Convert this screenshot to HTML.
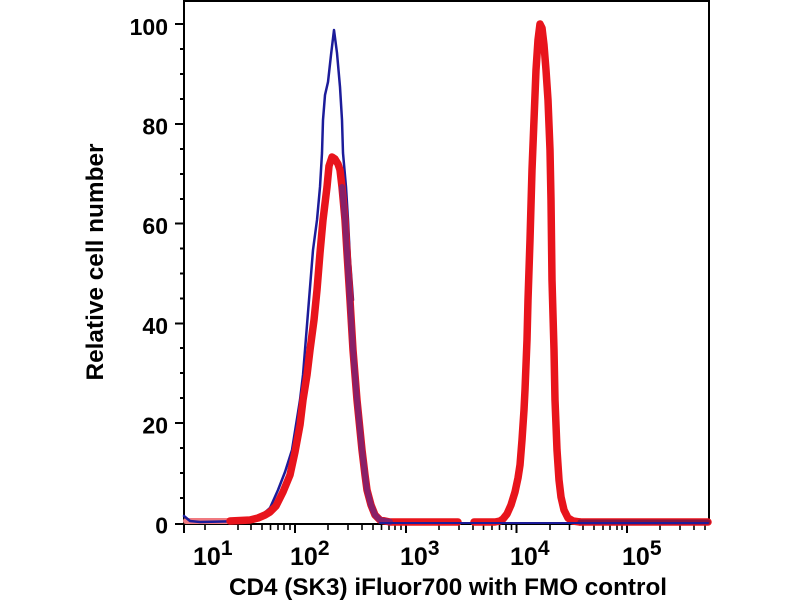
<!DOCTYPE html>
<html><head><meta charset="utf-8"><style>
html,body{margin:0;padding:0;background:#fff;}
svg{display:block;}
text{font-family:"Liberation Sans",Arial,sans-serif;font-weight:bold;fill:#000;}
</style></head><body>
<svg width="800" height="600" viewBox="0 0 800 600" xmlns="http://www.w3.org/2000/svg">
<rect width="800" height="600" fill="#fff"/>
<!-- frame -->
<line x1="184" y1="1" x2="710" y2="1" stroke="#000" stroke-width="2"/>
<line x1="709" y1="0" x2="709" y2="525" stroke="#000" stroke-width="2"/>
<line x1="184" y1="0" x2="184" y2="533" stroke="#000" stroke-width="2"/>
<line x1="175" y1="524" x2="710" y2="524" stroke="#000" stroke-width="2"/>
<!-- y ticks -->
<g stroke="#000" stroke-width="2">
<line x1="175" y1="24" x2="184" y2="24"/>
<line x1="175" y1="124" x2="184" y2="124"/>
<line x1="175" y1="223.5" x2="184" y2="223.5"/>
<line x1="175" y1="323.5" x2="184" y2="323.5"/>
<line x1="175" y1="423" x2="184" y2="423"/>
<line x1="180" y1="49" x2="184" y2="49"/><line x1="180" y1="74" x2="184" y2="74"/><line x1="180" y1="99" x2="184" y2="99"/>
<line x1="180" y1="149" x2="184" y2="149"/><line x1="180" y1="174" x2="184" y2="174"/><line x1="180" y1="199" x2="184" y2="199"/>
<line x1="180" y1="248.5" x2="184" y2="248.5"/><line x1="180" y1="273.5" x2="184" y2="273.5"/><line x1="180" y1="298.5" x2="184" y2="298.5"/>
<line x1="180" y1="348" x2="184" y2="348"/><line x1="180" y1="373" x2="184" y2="373"/><line x1="180" y1="398" x2="184" y2="398"/>
<line x1="180" y1="448" x2="184" y2="448"/><line x1="180" y1="473" x2="184" y2="473"/><line x1="180" y1="498" x2="184" y2="498"/>
</g>
<!-- x ticks -->
<g stroke="#000" stroke-width="2">
<line x1="295" y1="524" x2="295" y2="533"/>
<line x1="406" y1="524" x2="406" y2="533"/>
<line x1="516.5" y1="524" x2="516.5" y2="533"/>
<line x1="627" y1="524" x2="627" y2="533"/>
</g>
<g stroke="#000" stroke-width="1.6">
<line x1="205" y1="524" x2="205" y2="530"/><line x1="238" y1="524" x2="238" y2="530"/><line x1="251" y1="524" x2="251" y2="530"/><line x1="262" y1="524" x2="262" y2="530"/><line x1="270.5" y1="524" x2="270.5" y2="530"/><line x1="278" y1="524" x2="278" y2="530"/><line x1="284" y1="524" x2="284" y2="530"/><line x1="290" y1="524" x2="290" y2="530"/>
<line x1="328" y1="524" x2="328" y2="530"/><line x1="348" y1="524" x2="348" y2="530"/><line x1="362" y1="524" x2="362" y2="530"/><line x1="373" y1="524" x2="373" y2="530"/><line x1="381.5" y1="524" x2="381.5" y2="530"/><line x1="389" y1="524" x2="389" y2="530"/><line x1="395" y1="524" x2="395" y2="530"/><line x1="401" y1="524" x2="401" y2="530"/>
<line x1="439" y1="524" x2="439" y2="530"/><line x1="459" y1="524" x2="459" y2="530"/><line x1="473" y1="524" x2="473" y2="530"/><line x1="483.5" y1="524" x2="483.5" y2="530"/><line x1="492" y1="524" x2="492" y2="530"/><line x1="499.5" y1="524" x2="499.5" y2="530"/><line x1="506" y1="524" x2="506" y2="530"/><line x1="511.5" y1="524" x2="511.5" y2="530"/>
<line x1="550" y1="524" x2="550" y2="530"/><line x1="569.5" y1="524" x2="569.5" y2="530"/><line x1="583" y1="524" x2="583" y2="530"/><line x1="594" y1="524" x2="594" y2="530"/><line x1="603" y1="524" x2="603" y2="530"/><line x1="610" y1="524" x2="610" y2="530"/><line x1="617" y1="524" x2="617" y2="530"/><line x1="622" y1="524" x2="622" y2="530"/>
<line x1="660" y1="524" x2="660" y2="530"/><line x1="680" y1="524" x2="680" y2="530"/><line x1="694" y1="524" x2="694" y2="530"/><line x1="705" y1="524" x2="705" y2="530"/>
</g>
<!-- curves -->
<g fill="none" stroke-linejoin="round" stroke-linecap="round">
<polyline stroke="#f07a80" stroke-width="6" points="186,521 230,521"/>
<polyline stroke="#1c1c9a" stroke-width="2.5" points="184,516 190,521 200,522 245,521 262,515 270,508 278,490 285,472 292,450 296,425 300,400 303,375 305,350 309,300 313,250 317,220 320,187 322,153 323,120 325,95 328,82 331,55 334,30 337,53 340,87 342,120 343,153 346,187 348,220 350,260 353,300"/>
<polyline stroke="#e8141c" stroke-width="7.5" points="230,521 250,520 258,518 265,515 270,512 276,506 283,492 290,475 295,452 300,425 303,400 307,375 310,350 314,320 317,290 320,253 323,220 327,187 329,166 332,157 335,159 338,164 340,170 342,187 345,220 347,253 350,300 353,350 357,400 362,450 365,475 367,490 371,505 375,515 380,520 390,522 458,522"/>
<polyline stroke="#e8141c" stroke-width="7.5" points="474,522 495,522 500,521 503,519 507,514 511,505 515,492 518,478 520,465 522,440 524,410 525,390 527,340 528,300 530,240 532,170 534,120 535,95 536,70 538,40 540,24 542,28 544,45 546,70 548,100 550,150 551,200 552,280 554,350 555,400 557,450 559,480 561,497 564,510 568,518 573,521 580,522"/>
<polyline stroke="#e8141c" stroke-width="7.5" points="580,522 708,522"/>
<polyline stroke="#3a2aa8" stroke-opacity="0.55" stroke-width="6" points="342,187 345,220 347,253 350,300 353,350 357,400 362,450 365,475 367,490 371,505 375,515 380,520 390,522"/>
<polyline stroke="#2a1060" stroke-opacity="0.5" stroke-width="5" points="580,522 708,522"/>
<polyline stroke="#1c1c9a" stroke-width="2" points="380,523 708,523"/>
</g>
<!-- y labels -->
<g font-size="23" text-anchor="end">
<text x="168" y="35">100</text>
<text x="168" y="134.5">80</text>
<text x="168" y="234">60</text>
<text x="168" y="334">40</text>
<text x="168" y="433.5">20</text>
<text x="168" y="533.5">0</text>
</g>
<!-- x labels -->
<g font-size="25">
<text x="193" y="565">10<tspan font-size="21" dy="-10">1</tspan></text>
<text x="290" y="565">10<tspan font-size="21" dy="-10">2</tspan></text>
<text x="400" y="565">10<tspan font-size="21" dy="-10">3</tspan></text>
<text x="510" y="565">10<tspan font-size="21" dy="-10">4</tspan></text>
<text x="622" y="565">10<tspan font-size="21" dy="-10">5</tspan></text>
</g>
<text x="229" y="595" font-size="24" textLength="438" lengthAdjust="spacingAndGlyphs">CD4 (SK3) iFluor700 with FMO control</text>
<text transform="translate(103,262) rotate(-90)" x="0" y="0" font-size="24" text-anchor="middle" textLength="237" lengthAdjust="spacingAndGlyphs">Relative cell number</text>
</svg>
</body></html>
